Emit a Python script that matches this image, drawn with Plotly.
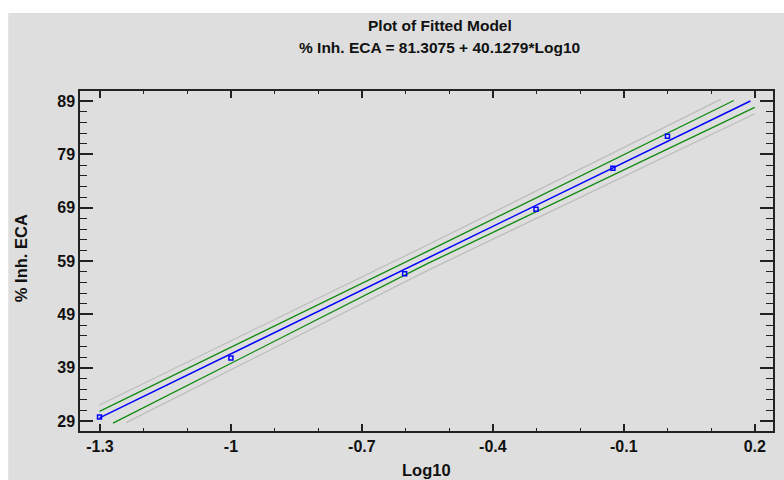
import plotly.graph_objects as go

# ---- data ----
obs_x = [-1.301, -1.0, -0.602, -0.301, -0.125, 0.0]
obs_y = [29.75, 40.8, 56.6, 68.7, 76.4, 82.4]

fit_x = [-1.301, 0.19]
fit_y = [29.6, 89.0]

conf_up_x = [-1.301, -0.55, 0.152]
conf_up_y = [30.8, 60.8, 89.1]
conf_lo_x = [-1.27, -0.55, 0.2]
conf_lo_y = [28.6, 58.5, 87.8]

pred_up_x = [-1.301, -0.55, 0.122]
pred_up_y = [32.0, 62.0, 89.3]
pred_lo_x = [-1.24, -0.55, 0.2]
pred_lo_y = [28.7, 57.2, 86.6]

x_ticks = [-1.3, -1.0, -0.7, -0.4, -0.1, 0.2]
x_ticklabels = ["-1.3", "-1", "-0.7", "-0.4", "-0.1", "0.2"]
y_ticks = [29, 39, 49, 59, 69, 79, 89]

title1 = "Plot of Fitted Model"
title2 = "% Inh. ECA = 81.3075 + 40.1279*Log10"
x_title = "Log10"
y_title = "% Inh. ECA"

# ---- figure ----
W, H = 784, 480
L, R, T, B = 80, 9, 91, 49
pw, ph = W - L - R, H - T - B

def px2paper_x(px):
    return (px - L) / pw

def py2paper_y(py):
    return (H - B - py) / ph

FONT = "Liberation Sans, Arial, sans-serif"
fig = go.Figure()

gray = "#BDBDBD"
green = "#108A10"
blue = "#0000FF"

for xs, ys, col, w in [
    (pred_up_x, pred_up_y, gray, 1.2),
    (pred_lo_x, pred_lo_y, gray, 1.2),
    (conf_up_x, conf_up_y, green, 1.3),
    (conf_lo_x, conf_lo_y, green, 1.3),
    (fit_x, fit_y, blue, 1.5),
]:
    fig.add_trace(go.Scatter(x=xs, y=ys, mode="lines",
                             line=dict(color=col, width=w),
                             hoverinfo="skip", showlegend=False))

fig.add_trace(go.Scatter(x=obs_x, y=obs_y, mode="markers",
                         marker=dict(symbol="square-open", size=4,
                                     color=blue, line=dict(color=blue, width=1.5)),
                         showlegend=False))

axis_common = dict(
    showgrid=False, zeroline=False, showline=True, linecolor="#222",
    linewidth=1.5, mirror="ticks", ticks="inside", tickcolor="#222",
    tickwidth=1.5,
    tickfont=dict(family=FONT, size=16, color="#111", weight="bold"),
)

fig.update_xaxes(
    range=[-1.3457, 0.2418], tickmode="array", tickvals=x_ticks,
    ticktext=x_ticklabels, ticklen=7,
    minor=dict(dtick=0.1, tick0=-1.3, ticklen=3, ticks="inside",
               tickcolor="#222", tickwidth=1.2),
    **axis_common)
fig.update_yaxes(
    range=[27.125, 90.875], tickmode="array", tickvals=y_ticks, ticklen=13,
    minor=dict(dtick=2, tick0=29, ticklen=7, ticks="inside",
               tickcolor="#222", tickwidth=1.2),
    **axis_common)

fig.update_layout(
    width=W, height=H,
    margin=dict(l=L, r=R, t=T, b=B),
    paper_bgcolor="white", plot_bgcolor="white",
    shapes=[dict(type="rect", xref="paper", yref="paper", layer="below",
                 x0=px2paper_x(8), x1=px2paper_x(790),
                 y0=py2paper_y(490), y1=py2paper_y(13),
                 fillcolor="#DEDEDE", line=dict(width=0))],
    annotations=[
        dict(text=title1, x=px2paper_x(441), y=py2paper_y(25), xref="paper", yref="paper",
             showarrow=False, xanchor="center", yanchor="middle",
             font=dict(family=FONT, size=15.5, color="#111", weight="bold")),
        dict(text=title2, x=px2paper_x(441), y=py2paper_y(47.5), xref="paper", yref="paper",
             showarrow=False, xanchor="center", yanchor="middle",
             font=dict(family=FONT, size=15.5, color="#111", weight="bold")),
        dict(text=x_title, x=px2paper_x(428), y=py2paper_y(469.5), xref="paper", yref="paper",
             showarrow=False, xanchor="center", yanchor="middle",
             font=dict(family=FONT, size=16.5, color="#111", weight="bold")),
        dict(text=y_title, x=px2paper_x(21), y=py2paper_y(258), xref="paper", yref="paper",
             showarrow=False, xanchor="center", yanchor="middle", textangle=-90,
             font=dict(family=FONT, size=16.5, color="#111", weight="bold")),
    ],
)

fig.write_html("out.html")
